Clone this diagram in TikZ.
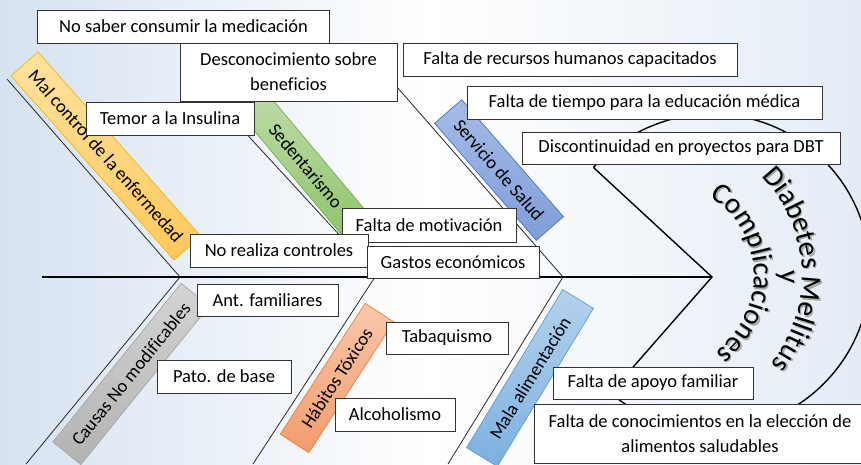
\documentclass[tikz,border=0pt]{standalone}
\usepackage{fontspec}
\setmainfont{Carlito}[Ligatures={NoCommon}]
\usetikzlibrary{decorations.text,calc}
\definecolor{bgL}{HTML}{D6E2F1}
\definecolor{bgR}{HTML}{E4ECF6}
\definecolor{malT}{HTML}{FFE2A0}\definecolor{malB}{HTML}{FFC85A}\definecolor{malD}{HTML}{F2B705}
\definecolor{sedT}{HTML}{BEDCA8}\definecolor{sedB}{HTML}{8FC26B}\definecolor{sedD}{HTML}{70AD47}
\definecolor{serT}{HTML}{A6BBE6}\definecolor{serB}{HTML}{7F9DD8}\definecolor{serD}{HTML}{4472C4}
\definecolor{cauT}{HTML}{D4D4D4}\definecolor{cauB}{HTML}{B2B2B2}\definecolor{cauD}{HTML}{A5A5A5}
\definecolor{habT}{HTML}{F9C8AA}\definecolor{habB}{HTML}{F29C6E}\definecolor{habD}{HTML}{ED7D31}
\definecolor{malaT}{HTML}{B4D2EE}\definecolor{malaB}{HTML}{7DB0E0}\definecolor{malaD}{HTML}{5B9BD5}
\newcommand\boxfont{\fontsize{18.5}{25}\selectfont}
\newcommand\headfont{\fontsize{29}{34}\selectfont}
\begin{document}
\begin{tikzpicture}[x=1pt,y=-1pt,
  wbox/.style={draw=black!80, line width=0.9pt, fill=white, inner sep=1pt, align=center, font=\boxfont, text=black},
  bar/.style={line width=0.7pt, inner sep=0pt, font=\boxfont, text=black},
  bone/.style={draw=black!85, line width=0.8pt},
  spine/.style={draw=black, line width=1.8pt},
  headline/.style={draw=black, line width=1.4pt}]
\useasboundingbox (0,0) rectangle (861,464);
\clip (0,0) rectangle (861,464);
\shade[left color=bgL, right color=bgR, middle color=white] (0,0) rectangle (861,464);

% bones
\coordinate (m1) at (7,79);   \coordinate (m2) at (180,277);
\coordinate (s1) at (196,79); \coordinate (s2) at (378,277);
\coordinate (v1) at (390,79); \coordinate (v2) at (563,277);
\coordinate (c2) at (26,464);
\coordinate (h1) at (375,277); \coordinate (h2) at (253,464);
\coordinate (a1) at (563,277); \coordinate (a2) at (448,464);
\coordinate (sp0) at (42,277); \coordinate (tip) at (712,277);
\coordinate (ht) at (593.5,167.5); \coordinate (hb) at (610.4,393);
\draw[bone] (m1) -- (m2);
\draw[bone] (s1) -- (s2);
\draw[bone] (v1) -- (v2);
\draw[bone] (m2) -- (c2);
\draw[bone] (h1) -- (h2);
\draw[bone] (a1) -- (a2);
\draw[spine] (sp0) -- (tip);
\draw[headline] (ht) -- (tip) -- (hb);
\draw[headline] (ht) arc[start angle=-138.6, end angle=130, radius=158];

% category bars
\node[bar, draw=malD, top color=malT, bottom color=malB, minimum width=246pt, minimum height=36pt, rotate=-48.5] (mal) at (106,156) {Mal control de la enfermedad};
\node[bar, draw=sedD, top color=sedT, bottom color=sedB, minimum width=170pt, minimum height=34pt, rotate=-50] (sed) at (306,166) {Sedentarismo};
\node[bar, draw=serD, top color=serT, bottom color=serB, minimum width=155pt, minimum height=36pt, rotate=-49] (ser) at (499,170) {Servicio de Salud};
\node[bar, draw=cauD, top color=cauT, bottom color=cauB, minimum width=204pt, minimum height=36pt, rotate=51] (cau) at (131,374) {Causas No modificables};
\node[bar, draw=habD, top color=habT, bottom color=habB, minimum width=156pt, minimum height=34pt, rotate=57] (hab) at (337,378) {Hábitos Tóxicos};
\node[bar, draw=malaD, top color=malaT, bottom color=malaB, minimum width=185pt, minimum height=36pt, rotate=58.7] (mala) at (530,378) {Mala alimentación};

% cause boxes
\node[wbox, minimum width=292pt, minimum height=33pt] (nosaber) at (183.5,26.5) {No saber consumir la medicación};
\node[wbox, minimum width=217pt, minimum height=58pt] (descon) at (288.5,72) {Desconocimiento sobre\\beneficios};
\node[wbox, minimum width=168pt, minimum height=33pt] (temor) at (170,118.5) {Temor a la Insulina};
\node[wbox, minimum width=334pt, minimum height=33pt] (recursos) at (570,59.5) {Falta de recursos humanos capacitados};
\node[wbox, minimum width=355pt, minimum height=33pt] (tiempo) at (644.5,102.5) {Falta de tiempo para la educación médica};
\node[wbox, minimum width=318pt, minimum height=32pt] (discont) at (681,148) {Discontinuidad en proyectos para DBT};
\node[wbox, minimum width=174pt, minimum height=34pt] (motiv) at (429,225) {Falta de motivación};
\node[wbox, minimum width=178pt, minimum height=33pt] (norealiza) at (279,250.5) {No realiza controles};
\node[wbox, minimum width=172pt, minimum height=32pt] (gastos) at (453,262) {Gastos económicos};
\node[wbox, minimum width=141pt, minimum height=32pt] (antfam) at (267.5,300) {Ant. familiares};
\node[wbox, minimum width=134pt, minimum height=33pt] (pato) at (224,376.5) {Pato. de base};
\node[wbox, minimum width=122pt, minimum height=32pt] (tabaq) at (447,338) {Tabaquismo};
\node[wbox, minimum width=120pt, minimum height=33pt] (alcoh) at (395,414.5) {Alcoholismo};
\node[wbox, minimum width=200pt, minimum height=32pt] (apoyo) at (653,383) {Falta de apoyo familiar};
\node[wbox, minimum width=332pt, minimum height=59pt] (conoc) at (700,433.5) {Falta de conocimientos en la elección de\\alimentos saludables};

% head text
\coordinate (O) at (660,276);
\coordinate (Os) at (661.5,277.5);
\path[decorate, decoration={text along path, text={|\headfont\color{black!35}|Diabetes Mellitus}, text align=center}]
  ($(Os)+(-88:142)$) arc[start angle=-88, end angle=82, radius=142];
\path[decorate, decoration={text along path, text={|\headfont\color{black!35}|Complicaciones}, text align=center}]
  ($(Os)+(-92:94)$) arc[start angle=-92, end angle=88, radius=94];
\node[rotate=-90, font=\headfont, text=black!35] (yshadow) at (786.5,278.5) {y};
\path[decorate, decoration={text along path, text={|\headfont|Diabetes Mellitus}, text align=center}]
  ($(O)+(-88:142)$) arc[start angle=-88, end angle=82, radius=142];
\path[decorate, decoration={text along path, text={|\headfont|Complicaciones}, text align=center}]
  ($(O)+(-92:94)$) arc[start angle=-92, end angle=88, radius=94];
\node[rotate=-90, font=\headfont] (yy) at (785,277) {y};
\end{tikzpicture}
\end{document}
